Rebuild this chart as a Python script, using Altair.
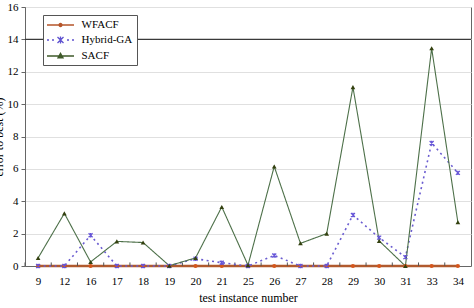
import altair as alt
import pandas as pd

# test instances on the x axis
instances = ["9", "12", "16", "17", "18", "19", "20", "21", "25",
             "26", "27", "28", "29", "30", "31", "33", "34"]

# error to best (%) for each algorithm
wfacf = [0.0] * 17
hybrid_ga = [0.0, 0.0, 1.9, 0.0, 0.0, 0.0, 0.45, 0.2, 0.0,
             0.65, 0.0, 0.0, 3.15, 1.75, 0.55, 7.6, 5.75]
sacf = [0.5, 3.25, 0.25, 1.52, 1.45, 0.02, 0.5, 3.65, 0.05,
        6.15, 1.4, 2.0, 11.05, 1.55, 0.0, 13.45, 2.7]

series_names = ["WFACF", "Hybrid-GA", "SACF"]
y_ticks = [0, 2, 4, 6, 8, 10, 12, 14, 16]

rows = []
for name, vals in zip(series_names, [wfacf, hybrid_ga, sacf]):
    for inst, v in zip(instances, vals):
        rows.append({"series": name, "inst": inst, "value": v})
df = pd.DataFrame(rows)

W, H = 446, 259
FONT = "Liberation Serif"
Y_TITLE = "error to best (%)"

line_colors = {"WFACF": "#b05a2e", "Hybrid-GA": "#6a5cd0", "SACF": "#4d7049"}
mark_colors = {"WFACF": "#d4561c", "Hybrid-GA": "#6655d8", "SACF": "#33400f"}
line_widths = {"WFACF": 2.4, "Hybrid-GA": 1.6, "SACF": 1.1}
line_dash = {"WFACF": [1, 0], "Hybrid-GA": [2, 3.5], "SACF": [1, 0]}

# marker paths used on the data points
marker_paths = {
    "WFACF": "circle",
    "Hybrid-GA": "M-1,-1L1,1M-1,1L1,-1M0,-1.1L0,1.1",
    "SACF": "triangle-up",
}
marker_sizes = {"WFACF": 18, "Hybrid-GA": 16, "SACF": 22}

# legend glyphs: a short line segment with the series marker in the middle
legend_paths = [
    # solid line + dot
    "M-2.7,0H2.7M-0.3,0a0.3,0.3 0 1,0 0.6,0a0.3,0.3 0 1,0 -0.6,0M-0.12,0a0.12,0.12 0 1,0 0.24,0a0.12,0.12 0 1,0 -0.24,0",
    # dotted line + asterisk
    "M-2.7,0H-2.3M-1.7,0H-1.3M1.3,0H1.7M2.3,0H2.7M-0.6,-0.6L0.6,0.6M-0.6,0.6L0.6,-0.6M0,-0.7L0,0.7",
    # solid line + triangle
    "M-2.7,0H2.7M0,-0.55L0.5,0.35L-0.5,0.35ZM0,-0.25L0.22,0.2L-0.22,0.2Z",
]

y_scale = alt.Scale(domain=[0, 16], nice=False)
y_axis = alt.Axis(
    values=y_ticks, tickSize=4, tickColor="#666", labelOverlap=False,
    domainColor="#666", labelPadding=3, titleX=-20,
    grid=True, gridColor="#e0e0e0", gridWidth=1,
    labelFont=FONT, labelFontSize=11, labelColor="#000",
    titleFont=FONT, titleFontSize=12, titleFontWeight="normal",
    titleColor="#000",
)

x_enc = alt.X(
    "inst:N", sort=instances, title="test instance number",
    scale=alt.Scale(type="point", padding=0.5),
    axis=alt.Axis(ticks=False, labelPadding=9, titlePadding=6,
                  domainColor="#666", labelAngle=0,
                  labelFont=FONT, labelFontSize=11, labelColor="#000",
                  titleFont=FONT, titleFontSize=12, titleFontWeight="normal",
                  titleColor="#000"),
)


def y_field(field):
    return alt.Y(f"{field}:Q", title=Y_TITLE, scale=y_scale, axis=y_axis)


base = alt.Chart(df)

line_layers = []
for name in ["WFACF", "Hybrid-GA", "SACF"]:
    line_layers.append(
        base.transform_filter(alt.datum.series == name).mark_line(
            color=line_colors[name], strokeWidth=line_widths[name],
            strokeDash=line_dash[name],
        ).encode(x=x_enc, y=y_field("value"))
    )

# dark horizontal line at the 14 % level
ref_line = base.transform_filter(
    (alt.datum.series == "WFACF") & (alt.datum.inst == "9")
).transform_calculate(level="14").mark_rule(
    color="#3a3a3a", strokeWidth=1.3
).encode(y=y_field("level"))

# small inward ticks at the category boundaries
boundary_ticks = base.transform_filter(
    alt.datum.series == "WFACF"
).transform_calculate(tick_lo="0", tick_hi="0.22").mark_rule(
    color="#555", strokeWidth=1, xOffset=-W / 34
).encode(x=x_enc, y=y_field("tick_lo"), y2="tick_hi:Q")

layers = [line_layers[0], ref_line, boundary_ticks] + line_layers[1:]
for name in ["WFACF", "Hybrid-GA", "SACF"]:
    filled = name != "Hybrid-GA"
    layers.append(
        base.transform_filter(alt.datum.series == name).mark_point(
            shape=marker_paths[name], size=marker_sizes[name],
            color=mark_colors[name], filled=filled, opacity=1,
            strokeWidth=1.2,
        ).encode(x=x_enc, y=y_field("value"))
    )

# invisible layer that only carries the legend
legend_layer = base.mark_point(filled=False, strokeWidth=1.3).encode(
    x=x_enc, y=y_field("value"),
    color=alt.Color(
        "series:N", sort=series_names,
        scale=alt.Scale(domain=series_names,
                        range=["#b5552a", "#5f52d0", "#3f5a2a"]),
        legend=alt.Legend(
            title=None, orient="none", legendX=18, legendY=8,
            direction="vertical", symbolSize=100, symbolStrokeWidth=1.3,
            symbolOffset=7.5, labelOffset=15, padding=4, rowPadding=3,
            labelFont=FONT, labelFontSize=11, labelColor="#000",
            strokeColor="#555", fillColor="#ffffff", symbolType="circle",
        ),
    ),
    shape=alt.Shape(
        "series:N", sort=series_names,
        scale=alt.Scale(domain=series_names, range=legend_paths),
    ),
    opacity=alt.value(0),
)
layers.append(legend_layer)

chart = alt.layer(*layers).resolve_scale(
    color="independent", shape="independent"
).properties(
    width=W, height=H,
    autosize=alt.AutoSizeParams(type="none"),
    padding={"left": 25, "top": 7, "right": 3, "bottom": 42},
    background="white",
).configure_view(
    stroke="#666", strokeWidth=1
).configure_axis(
    labelFont=FONT, titleFont=FONT
)

chart.save("out.html", embed_options={"renderer": "svg", "actions": False})
